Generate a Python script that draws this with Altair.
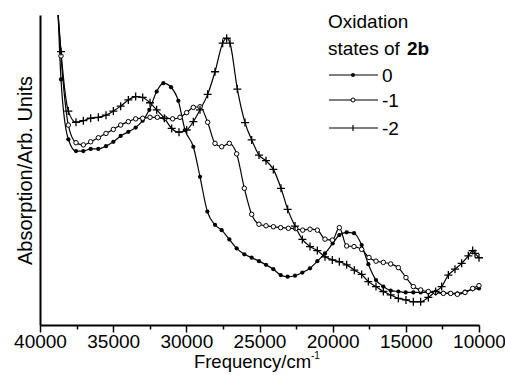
import altair as alt
import pandas as pd

FONT = "Liberation Sans"

series_names = ["0", "-1", "-2"]

freq_0 = [38760, 38565, 38064, 37540, 37039, 36537, 36014, 35490, 34988, 34487, 33963, 33462,
          32984, 32528, 32027, 31571, 31047, 30546, 30090, 29521, 29066, 28565, 28040, 27585,
          27061, 26560, 26036, 25535, 25034, 24555, 24054, 23553, 23075, 22573, 22072, 21548,
          21047, 20524, 20000, 19544, 19043, 18542, 18018, 17562, 17038, 16537, 16036, 15512,
          15011, 14487, 13986, 13462, 12961, 12437, 11982, 11480, 10956, 10432, 10000]
abs_0 = [100, 79.2, 59.9, 56.1, 56.1, 56.8, 56.8, 57.7, 59.1, 61.0, 62.3, 63.7,
         65.9, 69.4, 75.3, 78.0, 76.7, 72.3, 62.9, 57.5, 47.8, 36.6, 32.3, 30.6,
         27.6, 24.7, 22.8, 21.7, 20.6, 19.4, 18.0, 16.1, 15.6, 15.9, 16.9, 18.3,
         20.6, 23.1, 26.3, 29.0, 29.9, 29.6, 25.8, 19.6, 14.5, 12.4, 11.1, 10.8,
         10.5, 10.5, 10.5, 10.5, 10.5, 10.4, 10.2, 10.2, 10.8, 11.5, 11.8]

freq_1 = [38760, 38565, 38064, 37540, 37039, 36537, 36014, 35490, 34988, 34487, 33963, 33462,
          32984, 32482, 31981, 31457, 30934, 30432, 29977, 29521, 29066, 28542, 28040, 27585,
          27061, 26560, 26036, 25535, 25034, 24555, 24054, 23553, 23029, 22527, 22049, 21548,
          21047, 20524, 20023, 19544, 19043, 18542, 18018, 17517, 17038, 16537, 16036, 15512,
          14989, 14487, 13986, 13462, 12961, 12437, 11936, 11480, 10956, 10432, 10000]
abs_1 = [100, 86.8, 64.5, 58.8, 58.1, 59.1, 60.4, 61.8, 63.1, 64.5, 65.6, 66.5,
         66.7, 67.0, 67.0, 66.7, 66.5, 67.0, 68.5, 70.2, 70.4, 65.4, 58.6, 57.5,
         58.6, 55.2, 44.1, 35.7, 32.5, 32.0, 31.7, 31.4, 31.2, 31.1, 30.6, 30.9,
         30.6, 27.7, 27.4, 31.4, 25.5, 25.3, 24.4, 21.8, 20.6, 20.2, 19.7, 18.5,
         15.3, 12.4, 11.3, 10.8, 10.5, 10.2, 10.2, 9.9, 10.5, 11.8, 12.7]

freq_2 = [38760, 38565, 38064, 37540, 37039, 36537, 36014, 35490, 34988, 34487, 33963, 33462,
          32984, 32482, 32027, 31503, 31002, 30500, 29977, 29521, 29066, 28542, 28040, 27517,
          27243, 27015, 26514, 25990, 25535, 25034, 24555, 24054, 23530, 23075, 22573, 22072,
          21548, 21047, 20524, 20023, 19544, 19043, 18519, 18018, 17562, 17038, 16537, 16036,
          15512, 14989, 14487, 13986, 13462, 12961, 12551, 12095, 11640, 11184, 10728, 10432,
          10273, 10000]
abs_2 = [100, 88.2, 69.0, 65.4, 65.9, 66.7, 67.0, 67.7, 69.0, 70.6, 72.6, 73.7,
         73.4, 71.7, 69.4, 66.7, 63.4, 62.2, 62.9, 65.6, 69.4, 74.4, 81.7, 90.9,
         92.5, 90.9, 76.1, 65.3, 59.7, 54.8, 53.0, 50.2, 44.1, 37.3, 31.9, 27.6,
         25.3, 24.0, 22.0, 21.0, 20.4, 19.4, 17.7, 16.3, 14.0, 12.4, 10.8, 9.7,
         8.6, 8.1, 7.5, 7.5, 8.9, 10.8, 12.4, 16.1, 18.0, 19.9, 22.3, 24.0,
         23.1, 21.7]

x_tick_values = [10000, 12500, 15000, 17500, 20000, 22500, 25000, 27500, 30000,
                 32500, 35000, 37500, 40000]

x_title = "Frequency/cm"
x_title_sup = "-1"
y_title = "Absorption/Arb. Units"
legend_title_1 = "Oxidation"
legend_title_2 = "states of "
legend_title_bold = "2b"

rows = []
for name, fs, ab in zip(series_names, [freq_0, freq_1, freq_2], [abs_0, abs_1, abs_2]):
    for i, (f, a) in enumerate(zip(fs, ab)):
        rows.append({"series": name, "freq": f, "absorb": a, "order": i})
df = pd.DataFrame(rows)

x_enc = alt.X(
    "freq:Q",
    scale=alt.Scale(domain=[10000, 40000], reverse=True, nice=False, zero=False),
    axis=alt.Axis(
        title=x_title,
        titleX=212,
        titleAlign="center",
        values=x_tick_values,
        format="d",
        labelExpr="datum.value % 5000 === 0 ? datum.label : ''",
        tickSize={"condition": {"test": "datum.value % 5000 === 0", "value": 7}, "value": 4},
        tickWidth=1.5,
        tickColor="black",
        domainColor="black",
        domainWidth=2,
        grid=False,
        labelFont=FONT,
        labelFontSize=19,
        labelColor="black",
        labelPadding=0,
        labelFlush=False,
        labelOverlap=False,
        labelBound=False,
        titleFont=FONT,
        titleFontSize=18.5,
        titleFontWeight="normal",
        titleColor="black",
        titlePadding=1,
    ),
)
y_enc = alt.Y(
    "absorb:Q",
    scale=alt.Scale(domain=[0, 100], nice=False),
    axis=alt.Axis(
        title=y_title,
        ticks=False,
        labels=False,
        grid=False,
        domainColor="black",
        domainWidth=2,
        titleFont=FONT,
        titleFontSize=20,
        titleFontWeight="normal",
        titleColor="black",
        titlePadding=5,
    ),
)

base = alt.Chart(df)

lines = base.mark_line(color="black", strokeWidth=1.2, interpolate="monotone", clip=True).encode(
    x=x_enc, y=y_enc, detail="series:N", order="order:Q"
)

pts = base.transform_filter("datum.absorb < 100")

p0 = pts.transform_filter("datum.series == '0'").mark_point(
    shape="circle", filled=True, color="black", size=18, opacity=1
).encode(x=x_enc, y=y_enc)

p1 = pts.transform_filter("datum.series == '-1'").mark_point(
    shape="circle", filled=True, color="white", stroke="black", strokeWidth=1, size=20, opacity=1
).encode(x=x_enc, y=y_enc)

PLUS = "M-1,0L1,0M0,-1L0,1"
p2 = pts.transform_filter("datum.series == '-2'").mark_point(
    shape=PLUS, filled=False, stroke="black", strokeWidth=1.3, size=64, opacity=1
).encode(x=x_enc, y=y_enc)

one = pd.DataFrame({"k": [0]})
lg = alt.Chart(one)

# positions below are relative to the plot area (origin at page x=40, y=15)
legend_layers = []
legend_y = [60, 85, 113]
for name, yy in zip(series_names, legend_y):
    legend_layers.append(
        lg.mark_rule(color="black", strokeWidth=1.2).encode(
            x=alt.value(289), x2=alt.value(338), y=alt.value(yy)
        )
    )
    legend_layers.append(
        lg.mark_text(align="left", baseline="middle", font=FONT, fontSize=19, color="black").encode(
            x=alt.value(342), y=alt.value(yy + 1), text=alt.value(name)
        )
    )
legend_layers.append(
    lg.mark_point(shape="circle", filled=True, color="black", size=16, opacity=1).encode(
        x=alt.value(313), y=alt.value(legend_y[0])
    )
)
legend_layers.append(
    lg.mark_point(shape="circle", filled=True, color="white", stroke="black", strokeWidth=1, size=16, opacity=1).encode(
        x=alt.value(313), y=alt.value(legend_y[1])
    )
)
legend_layers.append(
    lg.mark_point(shape="M0,-1L0,1", filled=False, stroke="black", strokeWidth=1.2, size=36, opacity=1).encode(
        x=alt.value(313), y=alt.value(legend_y[2])
    )
)
legend_layers.append(
    lg.mark_text(align="left", baseline="middle", font=FONT, fontSize=19, color="black").encode(
        x=alt.value(288), y=alt.value(7), text=alt.value(legend_title_1)
    )
)
legend_layers.append(
    lg.mark_text(align="left", baseline="middle", font=FONT, fontSize=19, color="black").encode(
        x=alt.value(288), y=alt.value(34), text=alt.value(legend_title_2)
    )
)
legend_layers.append(
    lg.mark_text(align="left", baseline="middle", font=FONT, fontSize=19, fontWeight="bold", color="black").encode(
        x=alt.value(367), y=alt.value(34), text=alt.value(legend_title_bold)
    )
)
sup = lg.mark_text(align="left", baseline="middle", font=FONT, fontSize=10, color="black").encode(
    x=alt.value(271), y=alt.value(341), text=alt.value(x_title_sup)
)

chart = alt.layer(lines, p0, p1, p2, *legend_layers, sup).properties(
    width=439,
    height=310,
    autosize=alt.AutoSizeParams(type="none"),
    padding={"left": 40, "top": 15, "right": 26, "bottom": 50},
    background="white",
).configure_view(stroke=None)

chart.save("out.html", embed_options={"renderer": "svg", "actions": False})
